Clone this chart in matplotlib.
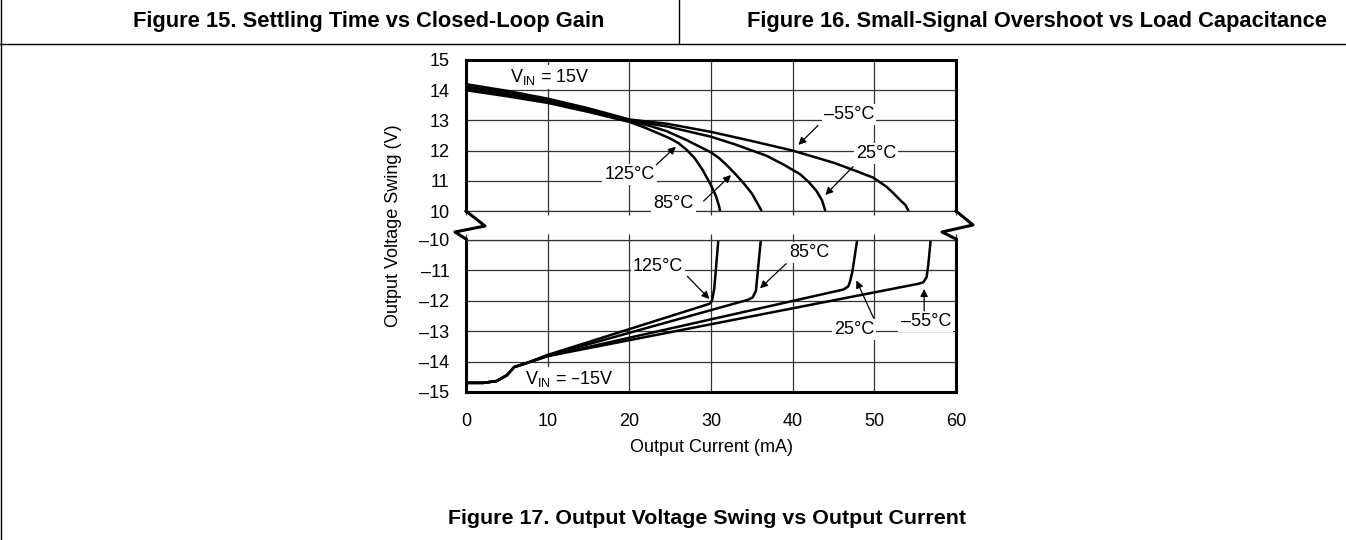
import numpy as np
import matplotlib.pyplot as plt
from matplotlib.lines import Line2D

plt.rcParams['font.family'] = ['Liberation Sans', 'DejaVu Sans']

# positive swing, V_IN = 15V (current in mA, voltage in V)
i_pos_m55 = [0, 5, 10, 15, 20, 24.6, 30, 34.8, 40, 45, 48, 49.9, 51.5, 52.3, 53.2, 53.8, 54.2]
v_pos_m55 = [14.2, 13.98, 13.72, 13.4, 13.03, 12.89, 12.62, 12.33, 12.0, 11.6, 11.3, 11.1, 10.8, 10.6, 10.35, 10.2, 10.0]
i_pos_25 = [0, 5, 10, 15, 20, 24.6, 30, 33, 36.8, 39, 40.9, 42, 42.9, 43.6, 44.0]
v_pos_25 = [14.12, 13.92, 13.68, 13.36, 13.0, 12.8, 12.46, 12.2, 11.83, 11.52, 11.22, 10.95, 10.67, 10.35, 10.0]
i_pos_85 = [0, 5, 10, 15, 20, 22.5, 24.6, 27, 30, 31, 32, 33, 34, 35, 35.7, 36.2]
v_pos_85 = [14.06, 13.86, 13.63, 13.32, 12.98, 12.82, 12.64, 12.35, 11.94, 11.75, 11.5, 11.22, 10.92, 10.58, 10.25, 10.0]
i_pos_125 = [0, 5, 10, 15, 20, 22, 24, 25, 26, 27, 28, 29, 30, 30.6, 31, 31.1]
v_pos_125 = [14.0, 13.8, 13.58, 13.28, 12.95, 12.75, 12.52, 12.4, 12.25, 12.03, 11.75, 11.35, 10.85, 10.5, 10.15, 10.0]

# negative swing, V_IN = -15V
i_neg_m55 = [0, 2.1, 3.75, 5, 5.9, 7.4, 10, 55.4, 56.0, 56.4, 56.6, 56.9]
v_neg_m55 = [-14.7, -14.7, -14.64, -14.45, -14.18, -14.05, -13.82, -11.44, -11.39, -11.22, -10.83, -10.0]
i_neg_25 = [0, 2.1, 3.75, 5, 5.9, 7.4, 10, 46.2, 46.8, 47.0, 47.3, 47.9]
v_neg_25 = [-14.7, -14.7, -14.64, -14.45, -14.18, -14.05, -13.82, -11.63, -11.53, -11.39, -11.06, -10.0]
i_neg_85 = [0, 2.1, 3.75, 5, 5.9, 7.4, 10, 34.5, 35.1, 35.5, 36.1]
v_neg_85 = [-14.7, -14.7, -14.64, -14.45, -14.18, -14.05, -13.8, -11.97, -11.89, -11.67, -10.0]
i_neg_125 = [0, 2.1, 3.75, 5, 5.9, 7.4, 10, 29.8, 30.1, 30.4, 30.9]
v_neg_125 = [-14.7, -14.7, -14.64, -14.45, -14.18, -14.05, -13.78, -12.1, -12.02, -11.6, -10.0]

x_ticks = [0, 10, 20, 30, 40, 50, 60]
y_ticks_hi = [10, 11, 12, 13, 14, 15]
y_ticks_lo = [-15, -14, -13, -12, -11, -10]

W, H = 1346, 540
fig = plt.figure(figsize=(13.46, 5.4), dpi=100)

ax_hi = fig.add_axes([466 / W, 1 - 211 / H, 490 / W, 151 / H])
ax_lo = fig.add_axes([466 / W, 1 - 392 / H, 490 / W, 152 / H])

curve = dict(color='black', lw=1.8, solid_capstyle='butt')
ax_hi.plot(i_pos_m55, v_pos_m55, **curve)
ax_hi.plot(i_pos_25, v_pos_25, **curve)
ax_hi.plot(i_pos_85, v_pos_85, **curve)
ax_hi.plot(i_pos_125, v_pos_125, **curve)
ax_lo.plot(i_neg_m55, v_neg_m55, **curve)
ax_lo.plot(i_neg_25, v_neg_25, **curve)
ax_lo.plot(i_neg_85, v_neg_85, **curve)
ax_lo.plot(i_neg_125, v_neg_125, **curve)

for ax, yt in [(ax_hi, y_ticks_hi), (ax_lo, y_ticks_lo)]:
    ax.set_xlim(0, 60)
    ax.set_ylim(yt[0], yt[-1])
    ax.set_xticks(x_ticks)
    ax.set_yticks(yt, [str(v).replace('-', '\u2013') for v in yt])
    ax.grid(True, color='#333333', lw=0.9)
    ax.tick_params(axis='y', length=0, pad=12, labelsize=13)
    for s in ax.spines.values():
        s.set_linewidth(2.2)

# inner edges of the break are thin like the grid
ax_hi.spines['bottom'].set_linewidth(0.9)
ax_hi.spines['bottom'].set_color('#333333')
ax_lo.spines['top'].set_linewidth(0.9)
ax_lo.spines['top'].set_color('#333333')
ax_hi.tick_params(axis='x', length=3, width=0.9, color='#333333', labelbottom=False)
ax_lo.tick_params(axis='x', top=True, bottom=False, length=4, width=0.9, color='#333333',
                  labelsize=13, pad=11)

# labels and arrows
box = dict(facecolor='white', edgecolor='none', pad=1.5)
arrow = dict(arrowstyle='-|>', color='black', lw=0.9, shrinkA=0, shrinkB=0, mutation_scale=11)


def label(ax, s, xy, start=None, tip=None):
    ax.text(xy[0], xy[1], s, ha='center', va='center', fontsize=13, bbox=box, zorder=3)
    if start is not None:
        ax.annotate('', xy=tip, xytext=start, arrowprops=arrow, zorder=4)


label(ax_hi, r'V$_{\mathregular{IN}}$ = 15V', (10.3, 14.44))
label(ax_hi, '\u201355°C', (46.9, 13.2), (43.1, 12.83), (40.7, 12.19))
label(ax_hi, '25°C', (50.2, 11.91), (47.4, 11.47), (44.0, 10.53))
label(ax_hi, '125°C', (20.0, 11.2), (23.3, 11.53), (25.7, 12.13))
label(ax_hi, '85°C', (25.4, 10.26), (29.1, 10.33), (32.45, 11.19))

label(ax_lo, '125°C', (23.5, -10.86), (27.1, -11.19), (29.8, -11.94))
label(ax_lo, '85°C', (42.1, -10.41), (39.2, -10.78), (36.0, -11.59))
label(ax_lo, '25°C', (47.5, -12.94), (49.9, -12.56), (47.8, -11.33))
label(ax_lo, '\u201355°C', (56.3, -12.69), (56.1, -12.33), (56.1, -11.61))
label(ax_lo, r'V$_{\mathregular{IN}}$ = \u201315V'.replace('\\u2013', '\u2013'), (12.6, -14.58))

fig.text(711 / W, 1 - 448 / H, 'Output Current (mA)', ha='center', va='center', fontsize=13)
fig.text(393 / W, 1 - 226 / H, 'Output Voltage Swing (V)', ha='center', va='center',
         fontsize=13, rotation=90)

# axis break zigzags
for pts in [[(466, 211), (485, 226), (455, 232), (466, 239)],
            [(956, 211), (973, 225), (942, 232), (956, 239)]]:
    xs = [p[0] / W for p in pts]
    ys = [1 - p[1] / H for p in pts]
    fig.add_artist(Line2D(xs, ys, color='black', lw=2.2, transform=fig.transFigure))

# page frame around the figure captions
fig.add_artist(Line2D([1 / W, 1 / W], [0, 1], color='black', lw=1, transform=fig.transFigure))
fig.add_artist(Line2D([0, 1], [1 - 44 / H, 1 - 44 / H], color='black', lw=1, transform=fig.transFigure))
fig.add_artist(Line2D([679 / W, 679 / W], [1 - 44 / H, 1], color='black', lw=1, transform=fig.transFigure))

renderer = fig.canvas.get_renderer()
cap_font = ['Liberation Sans Narrow', 'Liberation Sans']
for x, y, s, w in [(369, 22, 'Figure 15. Settling Time vs Closed-Loop Gain', 472),
                   (1037, 22, 'Figure 16. Small-Signal Overshoot vs Load Capacitance', 581),
                   (707, 519, 'Figure 17. Output Voltage Swing vs Output Current', 518)]:
    t = fig.text(x / W, 1 - y / H, s, ha='center', va='center', fontsize=14,
                 fontweight='bold', family=cap_font)
    t.set_fontsize(14 * w / t.get_window_extent(renderer).width)

plt.savefig('out.png', dpi=100)
